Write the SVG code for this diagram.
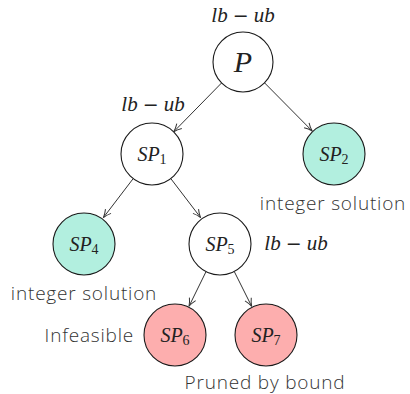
<svg xmlns="http://www.w3.org/2000/svg" width="410" height="394" viewBox="0 0 410 394">
<style>
.node{stroke:#1a1a1a;stroke-width:1.1;fill:#fff}
.int{fill:#b2efdf}
.bad{fill:#fdaeae}
.math{font-family:"Liberation Serif","DejaVu Serif",serif;font-style:italic;fill:#222;text-anchor:middle}
.lu{font-size:21px}
.op{font-style:normal;font-family:"DejaVu Serif",serif;font-size:19px}
.sub{font-style:normal;font-size:14px}
.lbl{font-family:"Open Sans","Lato",sans-serif;font-weight:300;font-size:19px;letter-spacing:0.8px;fill:#333}
.edge{stroke:#333;stroke-width:1;fill:none}
</style>
<defs>
<marker id="arr" viewBox="0 0 10 10" refX="9" refY="5" markerWidth="10" markerHeight="10" markerUnits="userSpaceOnUse" orient="auto">
<path d="M1,1.5 Q5,4 9,5 Q5,6 1,8.5" fill="none" stroke="#333" stroke-width="1"/>
</marker>
</defs>
<g id="connectors">
<line class="edge" x1="222" y1="82.5" x2="173.7" y2="131.8" marker-end="url(#arr)"/>
<line class="edge" x1="264" y1="82.3" x2="312.2" y2="131" marker-end="url(#arr)"/>
<line class="edge" x1="133.2" y1="178.6" x2="103.4" y2="217.6" marker-end="url(#arr)"/>
<line class="edge" x1="170.8" y1="178.6" x2="200.6" y2="217.6" marker-end="url(#arr)"/>
<line class="edge" x1="206" y1="271.7" x2="189" y2="306.3" marker-end="url(#arr)"/>
<line class="edge" x1="234.3" y1="271.6" x2="251.7" y2="306.4" marker-end="url(#arr)"/>
</g>
<g id="P">
<circle class="node" cx="243" cy="62" r="30"/>
<text class="math" x="243" y="72" font-size="30">P</text>
<text class="math lu" x="243" y="22">lb<tspan class="op" dx="5">−</tspan><tspan dx="5">ub</tspan></text>
</g>
<g id="SP1">
<circle class="node" cx="152" cy="154" r="31"/>
<text class="math" x="152" y="161" font-size="20">SP<tspan class="sub" dy="3">1</tspan></text>
<text class="math lu" x="153" y="111">lb<tspan class="op" dx="5">−</tspan><tspan dx="5">ub</tspan></text>
</g>
<g id="SP2">
<circle class="node int" cx="334" cy="154" r="31"/>
<text class="math" x="334" y="161" font-size="20">SP<tspan class="sub" dy="3">2</tspan></text>
<text class="lbl" x="333" y="210" text-anchor="middle">integer solution</text>
</g>
<g id="SP4">
<circle class="node int" cx="84" cy="244" r="31"/>
<text class="math" x="84" y="251" font-size="20">SP<tspan class="sub" dy="3">4</tspan></text>
<text class="lbl" x="84" y="300" text-anchor="middle">integer solution</text>
</g>
<g id="SP5">
<circle class="node" cx="220" cy="244" r="31"/>
<text class="math" x="220" y="251" font-size="20">SP<tspan class="sub" dy="3">5</tspan></text>
<text class="math lu" x="296" y="250">lb<tspan class="op" dx="5">−</tspan><tspan dx="5">ub</tspan></text>
</g>
<g id="SP6">
<circle class="node bad" cx="175" cy="335" r="31"/>
<text class="math" x="175" y="342" font-size="20">SP<tspan class="sub" dy="3">6</tspan></text>
<text class="lbl" x="134" y="342" text-anchor="end">Infeasible</text>
</g>
<g id="SP7">
<circle class="node bad" cx="266" cy="335" r="31"/>
<text class="math" x="266" y="342" font-size="20">SP<tspan class="sub" dy="3">7</tspan></text>
<text class="lbl" x="265" y="389" text-anchor="middle">Pruned by bound</text>
</g>
</svg>
